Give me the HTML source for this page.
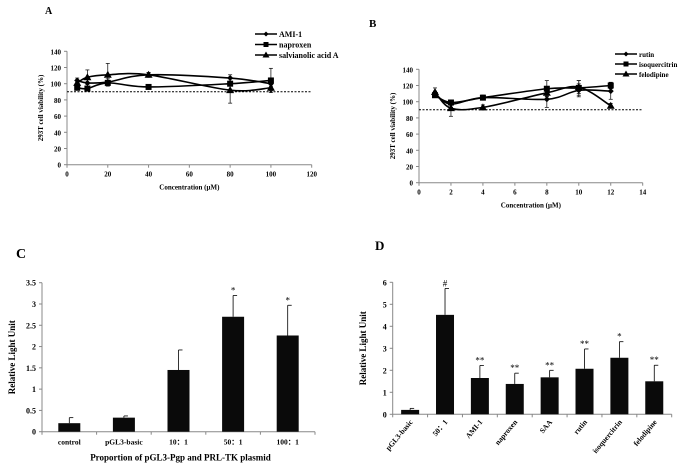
<!DOCTYPE html>
<html><head><meta charset="utf-8"><style>
body{margin:0;background:#fff;}
svg{display:block;font-family:"Liberation Serif",serif;font-weight:bold;}
</style></head><body>
<svg id="fig" width="700" height="471" viewBox="0 0 700 471" xmlns="http://www.w3.org/2000/svg"></svg>
<script>
// ---- Panel A data
const aX=[5,10,20,40,80,100];
const aAMI=[104,101,102,111,107,100];
const aAMIerr=[3,4,4,3,4,3];
const aNap=[95,94,101,96,100,104];
const aNapErr=[3,3,3,3,3,15];
const aSal=[101,108,111,111,92,95];
const aSalErr=[3,9,14,3,16,4];
const aXTicks=[0,20,40,60,80,100,120];
const aYTicks=[0,20,40,60,80,100,120,140];
// ---- Panel B data
const bX=[1,2,4,8,10,12];
const bRutin=[110,97,105,103,114,113];
const bRutinErr=[3,4,3,10,8,10];
const bIso=[108,99,105,116,117,120];
const bIsoErr=[3,3,3,10,9,4];
const bFel=[112,92,93,111,118,95];
const bFelErr=[5,10,3,4,8,3];
const bXTicks=[0,2,4,6,8,10,12,14];
const bYTicks=[0,20,40,60,80,100,120,140];
// ---- Panel C data
const cCats=["control","pGL3-basic","10：1","50：1","100：1"];
const cVals=[0.2,0.33,1.45,2.7,2.26];
const cErr=[0.13,0.04,0.47,0.5,0.71];
const cMarks=["","","","*","*"];
const cYTicks=[0,0.5,1,1.5,2,2.5,3,3.5];
// ---- Panel D data
const dCats=["pGL3-basic","50：1","AMI-1","naproxen","SAA","rutin","isoquercitrin","felodipine"];
const dVals=[0.2,4.52,1.65,1.38,1.68,2.07,2.57,1.5];
const dErr=[0.07,1.2,0.57,0.49,0.32,0.9,0.73,0.73];
const dMarks=["","#","**","**","**","**","*","**"];
const dYTicks=[0,1,2,3,4,5,6];

const svg=document.getElementById('fig');
const NS='http://www.w3.org/2000/svg';
function el(tag,attrs,parent,text){const e=document.createElementNS(NS,tag);for(const k in attrs)e.setAttribute(k,attrs[k]);if(text!==undefined)e.textContent=text;(parent||svg).appendChild(e);return e;}
function lin(d0,d1,r0,r1){return v=>r0+(v-d0)*(r1-r0)/(d1-d0);}
function smooth(pts){let d='M'+pts[0][0]+','+pts[0][1];for(let i=0;i<pts.length-1;i++){const p0=pts[i-1]||pts[i],p1=pts[i],p2=pts[i+1],p3=pts[i+2]||p2;const c1=[p1[0]+(p2[0]-p0[0])/6,p1[1]+(p2[1]-p0[1])/6],c2=[p2[0]-(p3[0]-p1[0])/6,p2[1]-(p3[1]-p1[1])/6];d+=' C'+c1+' '+c2+' '+p2;}return d;}
function marker(g,type,x,y,s){if(type==='d')return el('polygon',{points:`${x},${y-s} ${x+s},${y} ${x},${y+s} ${x-s},${y}`,fill:'#000'},g);if(type==='s')return el('rect',{x:x-s,y:y-s,width:2*s,height:2*s,fill:'#000'},g);return el('polygon',{points:`${x},${y-s-1} ${x+s+1},${y+s} ${x-s-1},${y+s}`,fill:'#000'},g);}

function linePanel(o){
  const g=el('g',{});
  const sx=lin(o.xd[0],o.xd[1],o.x0,o.x1),sy=lin(0,140,o.y0,o.y1);
  el('line',{x1:o.x0,y1:o.y0,x2:o.x0,y2:o.y1,stroke:'#888'},g);
  el('line',{x1:o.x0,y1:o.y0,x2:o.x1,y2:o.y0,stroke:'#888'},g);
  o.yt.forEach(t=>{el('line',{x1:o.x0-3,x2:o.x0,y1:sy(t),y2:sy(t),stroke:'#888'},g);el('text',{x:o.x0-6,y:sy(t)+3,'font-size':7,'text-anchor':'end'},g,t);});
  o.xt.forEach(t=>{el('line',{x1:sx(t),x2:sx(t),y1:o.y0,y2:o.y0+3,stroke:'#888'},g);el('text',{x:sx(t),y:o.y0+12,'font-size':7,'text-anchor':'middle'},g,t);});
  el('line',{x1:o.x0,x2:o.x1,y1:sy(90),y2:sy(90),stroke:'#000','stroke-dasharray':'2,1.5'},g);
  const yt=el('text',{x:0,y:0,'font-size':7,'text-anchor':'middle',transform:`translate(${o.x0-24},${(o.y0+o.y1)/2}) rotate(-90)`},g,'293T cell viability (%)');
  
  const xt=el('text',{x:(o.x0+o.x1)/2,y:o.y0+25,'font-size':7,'text-anchor':'middle'},g,'Concentration (μM)');
  
  o.series.forEach((s,si)=>{
    const sg=el('g',{},g);
    const pts=o.xs.map((x,i)=>[sx(x),sy(s.v[i])]);
    el('path',{d:smooth(pts),fill:'none',stroke:'#000','stroke-width':1.6},sg);
    pts.forEach((p,i)=>{const top=sy(s.v[i]+s.e[i]),bot=sy(s.v[i]-s.e[i]);el('line',{x1:p[0],x2:p[0],y1:top,y2:bot,stroke:'#000','stroke-width':0.7},sg);el('line',{x1:p[0]-2,x2:p[0]+2,y1:top,y2:top,stroke:'#000','stroke-width':0.7},sg);el('line',{x1:p[0]-2,x2:p[0]+2,y1:bot,y2:bot,stroke:'#000','stroke-width':0.7},sg);marker(sg,s.m,p[0],p[1],3);});
    const lg=el('g',{},g);
    const ly=o.ly+si*o.lsp;
    el('line',{x1:o.lx,x2:o.lx+22,y1:ly,y2:ly,stroke:'#000','stroke-width':1.6},lg);marker(lg,s.m,o.lx+11,ly,2.5);
    el('text',{x:o.lx+24,y:ly+3,'font-size':o.lfs},lg,s.label);
  });
}
linePanel({name:'panel-a',x0:67,x1:311.7,y0:164.7,y1:51.3,xd:[0,120],xs:aX,xt:aXTicks,yt:aYTicks,lx:255,ly:34,lsp:10.5,lfs:8,
  series:[{label:'AMI-1',v:aAMI,e:aAMIerr,m:'d'},{label:'naproxen',v:aNap,e:aNapErr,m:'s'},{label:'salvianolic acid A',v:aSal,e:aSalErr,m:'t'}]});
linePanel({name:'panel-b',x0:419,x1:642.7,y0:182.7,y1:69.3,xd:[0,14],xs:bX,xt:bXTicks,yt:bYTicks,lx:615,ly:54,lsp:10,lfs:7,
  series:[{label:'rutin',v:bRutin,e:bRutinErr,m:'d'},{label:'isoquercitrin',v:bIso,e:bIsoErr,m:'s'},{label:'felodipine',v:bFel,e:bFelErr,m:'t'}]});

function barPanel(o){
  const g=el('g',{});
  const sy=lin(0,o.ymax,o.y0,o.y1);const bw=(o.x1-o.x0)/o.cats.length;
  el('line',{x1:o.x0,y1:o.y0,x2:o.x0,y2:o.y1,stroke:'#888'},g);
  el('line',{x1:o.x0,y1:o.y0,x2:o.x1,y2:o.y0,stroke:'#888'},g);
  o.yt.forEach(t=>{el('line',{x1:o.x0-3,x2:o.x0,y1:sy(t),y2:sy(t),stroke:'#888'},g);el('text',{x:o.x0-6,y:sy(t)+3,'font-size':8,'text-anchor':'end'},g,t);});
  for(let i=0;i<=o.cats.length;i++)el('line',{x1:o.x0+i*bw,x2:o.x0+i*bw,y1:o.y0,y2:o.y0+3,stroke:'#888'},g);
  o.cats.forEach((c,i)=>{
    const cx=o.x0+bw*(i+0.5),top=sy(o.vals[i]),et=sy(o.vals[i]+o.err[i]);
    const b=el('rect',{x:cx-o.w/2,y:top,width:o.w,height:o.y0-top,fill:'#0a0a0a'},g);
    
    el('line',{x1:cx,x2:cx,y1:top,y2:et,stroke:'#000','stroke-width':0.8},g);
    el('line',{x1:cx,x2:cx+4,y1:et,y2:et,stroke:'#000','stroke-width':0.8},g);
    if(o.marks[i])el('text',{x:cx,y:et-2,'font-size':9,'text-anchor':'middle','font-weight':'normal'},g,o.marks[i]);
    if(o.rot)el('text',{x:0,y:0,'font-size':7.5,'text-anchor':'end',transform:`translate(${cx+3},${o.y0+8}) rotate(-50)`},g,c);
    else el('text',{x:cx,y:o.y0+13,'font-size':7.5,'text-anchor':'middle'},g,c);
  });
  const yt=el('text',{x:0,y:0,'font-size':9,'text-anchor':'middle',transform:`translate(${o.ytx},${(o.y0+o.y1)/2}) rotate(-90)`},g,'Relative Light Unit');
  
  if(o.xtitle){const xt=el('text',{x:(o.x0+o.x1)/2+2,y:o.y0+29,'font-size':9,'text-anchor':'middle'},g,o.xtitle);}
}
barPanel({name:'panel-c',x0:42,x1:315,y0:431.7,y1:282.7,ymax:3.5,cats:cCats,vals:cVals,err:cErr,marks:cMarks,yt:cYTicks,w:22,ytx:15,xtitle:'Proportion of pGL3-Pgp and PRL-TK plasmid'});
barPanel({name:'panel-d',x0:392.7,x1:671.7,y0:414.3,y1:282.3,ymax:6,cats:dCats,vals:dVals,err:dErr,marks:dMarks,yt:dYTicks,w:18,ytx:366,rot:true});

[['A',45,14,10,'panel-a-label'],['B',369,27,11,'panel-b-label'],['C',16,258,14,'panel-c-label'],['D',375,250,13,'panel-d-label']].forEach(l=>{
  const t=el('text',{x:l[1],y:l[2],'font-size':l[3]},svg,l[0]);
});
</script>
</body></html>
